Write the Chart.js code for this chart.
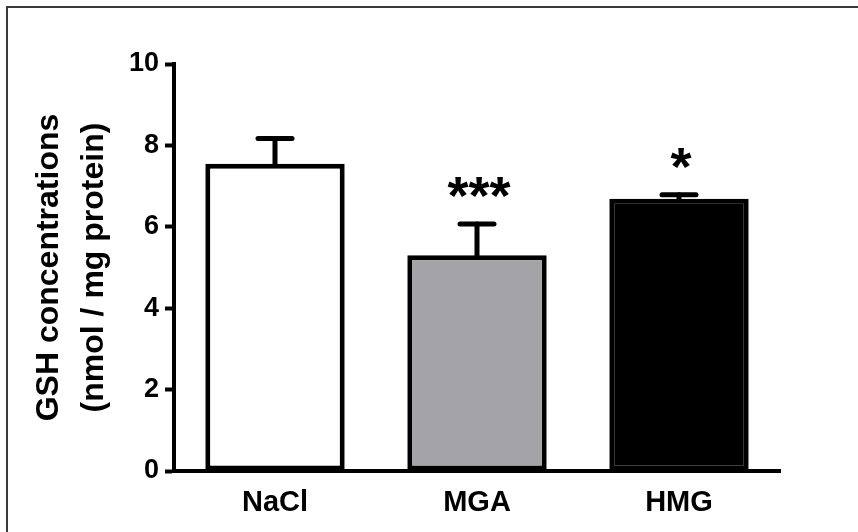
<!DOCTYPE html>
<html>
<head>
<meta charset="utf-8">
<script src="https://cdn.jsdelivr.net/npm/chart.js@4.4.0/dist/chart.umd.min.js"></script>
<style>
  html, body { margin: 0; padding: 0; background: #fff; overflow: hidden; }
  #wrap { position: relative; width: 858px; height: 532px; }
  #frame { position: absolute; left: 6px; top: 6px; width: 900px; height: 600px; border: 2px solid #3a3a3a; box-sizing: border-box; }
  canvas { position: absolute; left: 0; top: 0; }
</style>
</head>
<body>
<div id="wrap">
  <div id="frame"></div>
  <canvas id="c" width="858" height="532"></canvas>
</div>
<script>
const categories = ['NaCl', 'MGA', 'HMG'];
const means = [7.55, 5.30, 6.69];
const sem = [0.62, 0.77, 0.10];
const significance = ['', '***', '*'];
const fills = ['#ffffff', '#a4a3a8', '#000000'];
const yTicks = [0, 2, 4, 6, 8, 10];
const yTitle = ['GSH concentrations', '(nmol / mg protein)'];

const FONT = '"Liberation Sans", Arial, Helvetica, sans-serif';

const errorBars = {
  id: 'errorBars',
  afterDatasetsDraw(chart) {
    const ctx = chart.ctx;
    const meta = chart.getDatasetMeta(0);
    const y = chart.scales.y;
    ctx.save();
    ctx.strokeStyle = '#000';
    ctx.lineWidth = 5;
    ctx.lineCap = 'round';
    meta.data.forEach((bar, i) => {
      const x = bar.x;
      const yTop = y.getPixelForValue(means[i] + sem[i]);
      const yMean = y.getPixelForValue(means[i]);
      ctx.beginPath();
      ctx.moveTo(x, yMean);
      ctx.lineTo(x, yTop);
      ctx.stroke();
      ctx.beginPath();
      ctx.moveTo(x - 17, yTop);
      ctx.lineTo(x + 17, yTop);
      ctx.stroke();
      if (significance[i]) {
        ctx.fillStyle = '#000';
        ctx.font = 'bold 54px ' + FONT;
        ctx.textAlign = 'center';
        ctx.textBaseline = 'alphabetic';
        ctx.fillText(significance[i], x + 2, yTop - 40 + 30);
      }
    });
    ctx.restore();
  }
};

new Chart(document.getElementById('c'), {
  type: 'bar',
  data: {
    labels: categories,
    datasets: [{
      data: means,
      backgroundColor: fills,
      borderColor: '#000',
      borderWidth: 5,
      borderSkipped: false,
      barPercentage: 0.69,
      categoryPercentage: 1.0
    }]
  },
  options: {
    responsive: false,
    animation: false,
    devicePixelRatio: 1,
    layout: { padding: { top: 64, right: 78, left: 0, bottom: 0 } },
    plugins: { legend: { display: false }, tooltip: { enabled: false } },
    scales: {
      x: {
        afterFit: s => { s.height = 61; },
        grid: { display: false, drawTicks: false },
        border: { display: true, color: '#000', width: 4 },
        ticks: { color: '#000', padding: 15, font: { family: FONT, size: 29, weight: 'bold' } }
      },
      y: {
        min: 0, max: 10,
        afterFit: s => { s.width = 174; },
        afterBuildTicks: s => { s.ticks = yTicks.map(v => ({ value: v })); },
        grid: { drawOnChartArea: false, drawTicks: true, tickLength: 9, tickWidth: 4, tickColor: '#000' },
        border: { display: true, color: '#000', width: 4 },
        ticks: { color: '#000', padding: 6, font: { family: FONT, size: 27, weight: 'bold' } },
        title: {
          display: true,
          text: yTitle,
          color: '#000',
          padding: { top: 27, bottom: 0 },
          font: { family: FONT, size: 32, weight: 'bold', lineHeight: 1.4 }
        }
      }
    }
  },
  plugins: [errorBars]
});
</script>
</body>
</html>
